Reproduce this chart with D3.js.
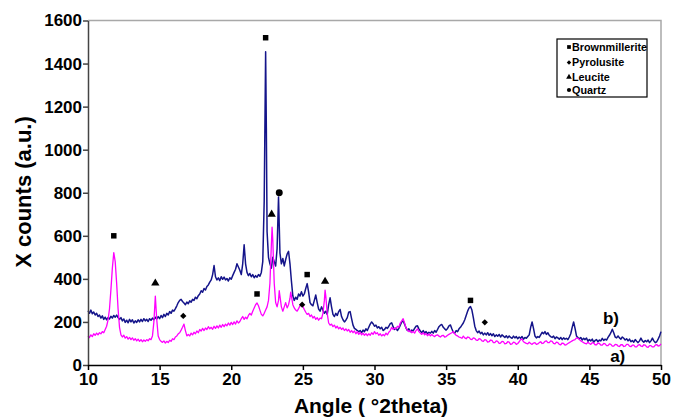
<!DOCTYPE html>
<html>

<head>
  <meta charset="utf-8">
  <script src="https://d3js.org/d3.v7.min.js"></script>
  <title>XRD patterns</title>
  <style>
    body {
      margin: 0px;
      background: white;
    }

    .tick text {
      font-family: "Liberation Sans", Arial, sans-serif;
      font-weight: bold;
      font-size: 17px;
      fill: #000;
    }

    .axis-label {
      font-family: "Liberation Sans", Arial, sans-serif;
      font-weight: bold;
      fill: #000;
    }

    .legend text {
      font-family: "Liberation Sans", Arial, sans-serif;
      font-weight: bold;
      font-size: 10.8px;
    }
  </style>
</head>

<body>
  <svg width="674" height="418"></svg>
  <script>
    // sample b) (navy) : [angle, counts]
    const seriesB = [
      [10.0, 252], [10.1, 240], [10.2, 255], [10.3, 238], [10.4, 246], [10.5, 232], [10.6, 240], [10.7, 225],
      [10.8, 232], [10.9, 218], [11.0, 228], [11.1, 212], [11.2, 222], [11.3, 210], [11.4, 220], [11.5, 214],
      [11.6, 226], [11.7, 218], [11.8, 230], [11.9, 222], [12.0, 232], [12.1, 220], [12.2, 212], [12.3, 220],
      [12.4, 205], [12.5, 214], [12.6, 198], [12.7, 208], [12.8, 196], [12.9, 212], [13.0, 200], [13.1, 210],
      [13.2, 195], [13.3, 205], [13.4, 198], [13.5, 210], [13.6, 200], [13.7, 212], [13.8, 202], [13.9, 215],
      [14.0, 205], [14.1, 212], [14.2, 202], [14.3, 215], [14.4, 208], [14.5, 218], [14.6, 210], [14.7, 222],
      [14.8, 214], [14.9, 225], [15.0, 215], [15.1, 230], [15.2, 220], [15.3, 235], [15.4, 225], [15.5, 240],
      [15.6, 232], [15.7, 248], [15.8, 240], [15.9, 255], [16.0, 250], [16.1, 262], [16.2, 275], [16.3, 290],
      [16.4, 300], [16.5, 305], [16.6, 295], [16.7, 288], [16.8, 280], [16.9, 292], [17.0, 285], [17.1, 298],
      [17.2, 292], [17.3, 305], [17.4, 300], [17.5, 315], [17.6, 308], [17.7, 322], [17.8, 330], [17.9, 345],
      [18.0, 338], [18.1, 355], [18.2, 348], [18.3, 365], [18.4, 372], [18.5, 385], [18.6, 395], [18.7, 420],
      [18.8, 462], [18.9, 410], [19.0, 395], [19.1, 405], [19.2, 392], [19.3, 410], [19.4, 398], [19.5, 408],
      [19.6, 395], [19.7, 402], [19.8, 390], [19.9, 405], [20.0, 398], [20.1, 415], [20.2, 430], [20.3, 445],
      [20.4, 470], [20.5, 455], [20.6, 440], [20.7, 420], [20.8, 470], [20.9, 558], [21.0, 470], [21.1, 430],
      [21.2, 415], [21.3, 425], [21.4, 410], [21.5, 420], [21.6, 405], [21.7, 415], [21.8, 408], [21.9, 420],
      [22.0, 412], [22.1, 430], [22.2, 480], [22.3, 760], [22.4, 1455], [22.45, 1100], [22.5, 620], [22.6, 500],
      [22.7, 470], [22.8, 450], [22.9, 500], [23.0, 480], [23.1, 460], [23.2, 540], [23.3, 780], [23.4, 520],
      [23.5, 470], [23.6, 495], [23.7, 460], [23.8, 490], [23.9, 515], [24.0, 528], [24.1, 470], [24.2, 390],
      [24.3, 320], [24.4, 300], [24.5, 315], [24.6, 305], [24.7, 330], [24.8, 320], [24.9, 340], [25.0, 320],
      [25.1, 330], [25.2, 355], [25.3, 378], [25.4, 340], [25.5, 290], [25.6, 280], [25.7, 275], [25.8, 300],
      [25.9, 325], [26.0, 290], [26.1, 260], [26.2, 250], [26.3, 270], [26.4, 255], [26.5, 240], [26.6, 250],
      [26.7, 235], [26.8, 280], [26.9, 312], [27.0, 270], [27.1, 235], [27.2, 225], [27.3, 240], [27.4, 230],
      [27.5, 248], [27.6, 258], [27.7, 225], [27.8, 210], [27.9, 200], [28.0, 208], [28.1, 220], [28.2, 245],
      [28.3, 248], [28.4, 215], [28.5, 185], [28.6, 170], [28.7, 165], [28.8, 160], [28.9, 155], [29.0, 160],
      [29.1, 150], [29.2, 162], [29.3, 155], [29.4, 168], [29.5, 160], [29.6, 175], [29.7, 190], [29.8, 200],
      [29.9, 192], [30.0, 180], [30.1, 185], [30.2, 172], [30.3, 178], [30.4, 168], [30.5, 175], [30.6, 160],
      [30.7, 165], [30.8, 175], [30.9, 170], [31.0, 180], [31.1, 192], [31.2, 196], [31.3, 178], [31.4, 165],
      [31.5, 172], [31.6, 160], [31.7, 170], [31.8, 185], [31.9, 200], [32.0, 205], [32.1, 190], [32.2, 172],
      [32.3, 160], [32.4, 168], [32.5, 155], [32.6, 162], [32.7, 158], [32.8, 170], [32.9, 180], [33.0, 182],
      [33.1, 168], [33.2, 158], [33.3, 150], [33.4, 160], [33.5, 148], [33.6, 155], [33.7, 145], [33.8, 152],
      [33.9, 148], [34.0, 156], [34.1, 148], [34.2, 160], [34.3, 152], [34.4, 165], [34.5, 178], [34.6, 185],
      [34.7, 188], [34.8, 175], [34.9, 168], [35.0, 162], [35.1, 170], [35.2, 182], [35.3, 186], [35.4, 168],
      [35.5, 152], [35.6, 148], [35.7, 160], [35.8, 155], [35.9, 168], [36.0, 175], [36.1, 185], [36.2, 195],
      [36.3, 210], [36.4, 230], [36.5, 250], [36.6, 265], [36.7, 272], [36.8, 255], [36.9, 220], [37.0, 180],
      [37.1, 160], [37.2, 150], [37.3, 158], [37.4, 145], [37.5, 152], [37.6, 140], [37.7, 148], [37.8, 140],
      [37.9, 150], [38.0, 138], [38.1, 146], [38.2, 136], [38.3, 145], [38.4, 132], [38.5, 140], [38.6, 134],
      [38.7, 142], [38.8, 130], [38.9, 140], [39.0, 134], [39.1, 128], [39.2, 136], [39.3, 126], [39.4, 135],
      [39.5, 128], [39.6, 124], [39.7, 134], [39.8, 126], [39.9, 132], [40.0, 122], [40.1, 130], [40.2, 124],
      [40.3, 132], [40.4, 120], [40.5, 128], [40.6, 124], [40.7, 132], [40.8, 140], [40.9, 175], [41.0, 200],
      [41.1, 170], [41.2, 135], [41.3, 126], [41.4, 132], [41.5, 128], [41.6, 140], [41.7, 152], [41.8, 145],
      [41.9, 155], [42.0, 142], [42.1, 150], [42.2, 138], [42.3, 132], [42.4, 128], [42.5, 134], [42.6, 122],
      [42.7, 130], [42.8, 126], [42.9, 120], [43.0, 128], [43.1, 118], [43.2, 126], [43.3, 120], [43.4, 124],
      [43.5, 118], [43.6, 130], [43.7, 145], [43.8, 175], [43.9, 200], [44.0, 170], [44.1, 135], [44.2, 128],
      [44.3, 122], [44.4, 128], [44.5, 116], [44.6, 124], [44.7, 118], [44.8, 125], [44.9, 110], [45.0, 118],
      [45.1, 112], [45.2, 120], [45.3, 106], [45.4, 114], [45.5, 118], [45.6, 108], [45.7, 116], [45.8, 112],
      [45.9, 124], [46.0, 114], [46.1, 120], [46.2, 116], [46.3, 128], [46.4, 138], [46.5, 150], [46.6, 166],
      [46.7, 150], [46.8, 130], [46.9, 126], [47.0, 135], [47.1, 126], [47.2, 120], [47.3, 130], [47.4, 124],
      [47.5, 116], [47.6, 122], [47.7, 112], [47.8, 120], [47.9, 108], [48.0, 114], [48.1, 106], [48.2, 118],
      [48.3, 110], [48.4, 104], [48.5, 112], [48.6, 125], [48.7, 112], [48.8, 106], [48.9, 114], [49.0, 108],
      [49.1, 116], [49.2, 104], [49.3, 112], [49.4, 125], [49.5, 112], [49.6, 104], [49.7, 108], [49.8, 120],
      [49.9, 135], [50.0, 155]
    ];

    // sample a) (magenta) : [angle, counts]
    const seriesA = [
      [10.0, 135], [10.1, 128], [10.2, 140], [10.3, 132], [10.4, 145], [10.5, 138], [10.6, 148], [10.7, 140],
      [10.8, 150], [10.9, 145], [11.0, 155], [11.1, 150], [11.2, 165], [11.3, 180], [11.4, 210], [11.5, 260],
      [11.6, 350], [11.7, 450], [11.8, 522], [11.9, 480], [12.0, 380], [12.1, 260], [12.2, 175], [12.3, 140],
      [12.4, 130], [12.5, 138], [12.6, 125], [12.7, 132], [12.8, 120], [12.9, 128], [13.0, 118], [13.1, 126],
      [13.2, 115], [13.3, 122], [13.4, 112], [13.5, 120], [13.6, 110], [13.7, 118], [13.8, 108], [13.9, 116],
      [14.0, 110], [14.1, 118], [14.2, 112], [14.3, 122], [14.4, 118], [14.5, 135], [14.6, 200], [14.7, 320],
      [14.8, 210], [14.9, 135], [15.0, 118], [15.1, 110], [15.2, 105], [15.3, 112], [15.4, 102], [15.5, 110],
      [15.6, 104], [15.7, 115], [15.8, 110], [15.9, 122], [16.0, 118], [16.1, 130], [16.2, 135], [16.3, 145],
      [16.4, 150], [16.5, 162], [16.6, 175], [16.7, 190], [16.8, 160], [16.9, 135], [17.0, 142], [17.1, 135],
      [17.2, 148], [17.3, 140], [17.4, 152], [17.5, 145], [17.6, 158], [17.7, 150], [17.8, 165], [17.9, 158],
      [18.0, 170], [18.1, 160], [18.2, 172], [18.3, 165], [18.4, 178], [18.5, 168], [18.6, 175], [18.7, 166],
      [18.8, 180], [18.9, 170], [19.0, 182], [19.1, 172], [19.2, 185], [19.3, 175], [19.4, 188], [19.5, 178],
      [19.6, 190], [19.7, 182], [19.8, 195], [19.9, 185], [20.0, 198], [20.1, 188], [20.2, 200], [20.3, 190],
      [20.4, 205], [20.5, 195], [20.6, 202], [20.7, 215], [20.8, 225], [20.9, 212], [21.0, 222], [21.1, 215],
      [21.2, 230], [21.3, 240], [21.4, 232], [21.5, 250], [21.6, 265], [21.7, 280], [21.8, 288], [21.9, 275],
      [22.0, 255], [22.1, 235], [22.2, 228], [22.3, 240], [22.4, 255], [22.5, 270], [22.6, 300], [22.7, 380],
      [22.8, 560], [22.85, 640], [22.9, 580], [23.0, 380], [23.1, 290], [23.2, 270], [23.3, 300], [23.35, 345],
      [23.4, 320], [23.5, 270], [23.6, 250], [23.7, 270], [23.8, 290], [23.9, 265], [24.0, 280], [24.1, 310],
      [24.15, 338], [24.2, 320], [24.3, 280], [24.4, 265], [24.5, 255], [24.6, 250], [24.7, 262], [24.8, 275],
      [24.9, 285], [25.0, 272], [25.1, 258], [25.2, 245], [25.3, 235], [25.4, 240], [25.5, 225], [25.6, 232],
      [25.7, 218], [25.8, 225], [25.9, 212], [26.0, 220], [26.1, 208], [26.2, 218], [26.3, 215], [26.4, 240],
      [26.5, 300], [26.55, 348], [26.6, 320], [26.7, 240], [26.8, 195], [26.9, 185], [27.0, 190], [27.1, 178],
      [27.2, 185], [27.3, 172], [27.4, 180], [27.5, 168], [27.6, 175], [27.7, 165], [27.8, 172], [27.9, 160],
      [28.0, 168], [28.1, 158], [28.2, 165], [28.3, 152], [28.4, 160], [28.5, 150], [28.6, 158], [28.7, 145],
      [28.8, 155], [28.9, 142], [29.0, 152], [29.1, 140], [29.2, 148], [29.3, 138], [29.4, 146], [29.5, 136],
      [29.6, 145], [29.7, 138], [29.8, 150], [29.9, 142], [30.0, 155], [30.1, 145], [30.2, 150], [30.3, 138],
      [30.4, 145], [30.5, 135], [30.6, 142], [30.7, 136], [30.8, 148], [30.9, 140], [31.0, 152], [31.1, 160],
      [31.2, 175], [31.3, 165], [31.4, 172], [31.5, 168], [31.6, 180], [31.7, 175], [31.8, 195], [31.9, 205],
      [32.0, 215], [32.1, 195], [32.2, 172], [32.3, 162], [32.4, 155], [32.5, 160], [32.6, 150], [32.7, 156],
      [32.8, 148], [32.9, 160], [33.0, 168], [33.1, 155], [33.2, 148], [33.3, 142], [33.4, 150], [33.5, 140],
      [33.6, 146], [33.7, 136], [33.8, 144], [33.9, 135], [34.0, 142], [34.1, 136], [34.2, 132], [34.3, 138],
      [34.4, 140], [34.5, 134], [34.6, 130], [34.7, 136], [34.8, 138], [34.9, 130], [35.0, 132], [35.1, 138],
      [35.2, 142], [35.3, 146], [35.4, 150], [35.5, 155], [35.6, 145], [35.7, 138], [35.8, 135], [35.9, 130],
      [36.0, 128], [36.1, 124], [36.2, 134], [36.3, 126], [36.4, 122], [36.5, 130], [36.6, 128], [36.7, 120],
      [36.8, 118], [36.9, 126], [37.0, 124], [37.1, 116], [37.2, 114], [37.3, 122], [37.4, 120], [37.5, 112],
      [37.6, 110], [37.7, 118], [37.8, 116], [37.9, 106], [38.0, 108], [38.1, 116], [38.2, 114], [38.3, 104],
      [38.4, 104], [38.5, 112], [38.6, 110], [38.7, 100], [38.8, 102], [38.9, 110], [39.0, 108], [39.1, 98],
      [39.2, 100], [39.3, 108], [39.4, 106], [39.5, 96], [39.6, 98], [39.7, 106], [39.8, 104], [39.9, 96],
      [40.0, 100], [40.1, 108], [40.2, 118], [40.3, 120], [40.4, 108], [40.5, 104], [40.6, 100], [40.7, 98],
      [40.8, 106], [40.9, 100], [41.0, 96], [41.1, 102], [41.2, 104], [41.3, 96], [41.4, 98], [41.5, 104],
      [41.6, 108], [41.7, 100], [41.8, 102], [41.9, 110], [42.0, 112], [42.1, 104], [42.2, 104], [42.3, 112],
      [42.4, 110], [42.5, 100], [42.6, 98], [42.7, 106], [42.8, 104], [42.9, 96], [43.0, 94], [43.1, 102],
      [43.2, 100], [43.3, 92], [43.4, 95], [43.5, 100], [43.6, 104], [43.7, 108], [43.8, 112], [43.9, 116],
      [44.0, 118], [44.1, 126], [44.2, 124], [44.3, 118], [44.4, 112], [44.5, 108], [44.6, 104], [44.7, 100],
      [44.8, 98], [44.9, 106], [45.0, 100], [45.1, 96], [45.2, 104], [45.3, 102], [45.4, 94], [45.5, 94],
      [45.6, 102], [45.7, 100], [45.8, 92], [45.9, 92], [46.0, 100], [46.1, 98], [46.2, 90], [46.3, 90],
      [46.4, 98], [46.5, 96], [46.6, 88], [46.7, 88], [46.8, 96], [46.9, 95], [47.0, 88], [47.1, 86],
      [47.2, 94], [47.3, 94], [47.4, 86], [47.5, 88], [47.6, 96], [47.7, 96], [47.8, 88], [47.9, 85],
      [48.0, 92], [48.1, 92], [48.2, 84], [48.3, 84], [48.4, 92], [48.5, 95], [48.6, 88], [48.7, 86],
      [48.8, 94], [48.9, 92], [49.0, 84], [49.1, 82], [49.2, 90], [49.3, 90], [49.4, 84], [49.5, 84],
      [49.6, 92], [49.7, 95], [49.8, 88], [49.9, 90], [50.0, 98]
    ];

    // phase peaks marked above the patterns : [angle, counts]
    const brownmillerite = [[11.8, 600], [21.8, 330], [22.4, 1520], [25.3, 420], [36.7, 300]];
    const pyrolusite = [[16.65, 228], [24.95, 280], [37.7, 198]];
    const leucite = [[14.7, 380], [22.82, 700], [26.55, 388]];
    const quartz = [[23.35, 800]];

    const phaseNames = ['Brownmillerite', 'Pyrolusite', 'Leucite', 'Quartz'];
    const xTicks = [10, 15, 20, 25, 30, 35, 40, 45, 50];
    const yTicks = [0, 200, 400, 600, 800, 1000, 1200, 1400, 1600];

    const svg = d3.select('svg');
    const plotLeft = 88, plotRight = 661, plotTop = 20.5, plotBottom = 365;

    const xScale = d3.scaleLinear().domain([10, 50]).range([plotLeft, plotRight]);
    const yScale = d3.scaleLinear().domain([0, 1600]).range([plotBottom, plotTop]);

    // frame: grey top and right border
    svg.append('path')
      .attr('d', `M${plotLeft},${plotTop}H${plotRight}V${plotBottom}`)
      .attr('fill', 'none')
      .attr('stroke', '#a8a8a8')
      .attr('stroke-width', 1.5);

    const line = d3.line()
      .x(d => xScale(d[0]))
      .y(d => yScale(d[1]));

    svg.append('path')
      .datum(seriesB)
      .attr('d', line)
      .attr('fill', 'none')
      .attr('stroke', '#14148a')
      .attr('stroke-width', 1.5)
      .attr('stroke-linejoin', 'round');

    svg.append('path')
      .datum(seriesA)
      .attr('d', line)
      .attr('fill', 'none')
      .attr('stroke', '#ff00ff')
      .attr('stroke-width', 1.3)
      .attr('stroke-linejoin', 'round');

    const yAxisG = svg.append('g')
      .attr('transform', `translate(${plotLeft},0)`)
      .call(d3.axisLeft(yScale).tickValues(yTicks).tickFormat(d3.format('d'))
        .tickSize(5).tickPadding(1).tickSizeOuter(0));
    yAxisG.select('.domain').attr('stroke', '#444').attr('stroke-width', 1.5);
    yAxisG.selectAll('.tick line').attr('stroke', '#444').attr('stroke-width', 1.5);

    const xAxisG = svg.append('g')
      .attr('transform', `translate(0,${plotBottom})`)
      .call(d3.axisBottom(xScale).tickValues(xTicks).tickFormat(d3.format('d'))
        .tickSize(5).tickPadding(3).tickSizeOuter(0));
    xAxisG.select('.domain').attr('stroke', '#000').attr('stroke-width', 1.5);
    xAxisG.selectAll('.tick line').attr('stroke', '#000').attr('stroke-width', 1.5);

    svg.append('text')
      .attr('class', 'axis-label')
      .attr('transform', `translate(31,192) rotate(-90)`)
      .style('text-anchor', 'middle')
      .style('font-size', '22px')
      .text('X counts (a.u.)');

    svg.append('text')
      .attr('class', 'axis-label')
      .attr('x', 371)
      .attr('y', 413)
      .style('text-anchor', 'middle')
      .style('font-size', '21px')
      .text('Angle ( °2theta)');

    // phase markers (diamond = square turned 45°)
    const shapes = [
      { data: brownmillerite, type: d3.symbolSquare, size: 30, rot: 0 },
      { data: pyrolusite, type: d3.symbolSquare, size: 20, rot: 45 },
      { data: leucite, type: d3.symbolTriangle, size: 30, rot: 0 },
      { data: quartz, type: d3.symbolCircle, size: 38, rot: 0 }
    ];

    shapes.forEach(s => {
      svg.append('g').selectAll('path').data(s.data)
        .enter().append('path')
        .attr('transform', d => `translate(${xScale(d[0])},${yScale(d[1])}) rotate(${s.rot})`)
        .attr('d', d3.symbol().type(s.type).size(s.size))
        .attr('fill', '#000');
    });

    svg.append('text')
      .attr('class', 'axis-label')
      .attr('x', xScale(45.95))
      .attr('y', yScale(190))
      .style('font-size', '17px')
      .text('b)');

    svg.append('text')
      .attr('class', 'axis-label')
      .attr('x', xScale(46.45))
      .attr('y', yScale(12))
      .style('font-size', '17px')
      .text('a)');

    // legend
    const legendG = svg.append('g').attr('class', 'legend')
      .attr('transform', 'translate(557,39)');

    legendG.append('rect')
      .attr('width', 90)
      .attr('height', 58)
      .attr('fill', 'white')
      .attr('stroke', '#000')
      .attr('stroke-width', 1.2);

    const rowY = [8, 23.5, 38, 51];
    const rows = legendG.selectAll('.row').data(phaseNames)
      .enter().append('g')
      .attr('class', 'row')
      .attr('transform', (d, i) => `translate(12,${rowY[i]})`);

    rows.append('path')
      .attr('transform', (d, i) => `rotate(${shapes[i].rot})`)
      .attr('d', (d, i) => d3.symbol().type(shapes[i].type).size(i === 1 ? 10 : 14)())
      .attr('fill', '#000');

    rows.append('text')
      .attr('x', 3)
      .attr('dy', '0.35em')
      .text(d => d);
  </script>
</body>

</html>
